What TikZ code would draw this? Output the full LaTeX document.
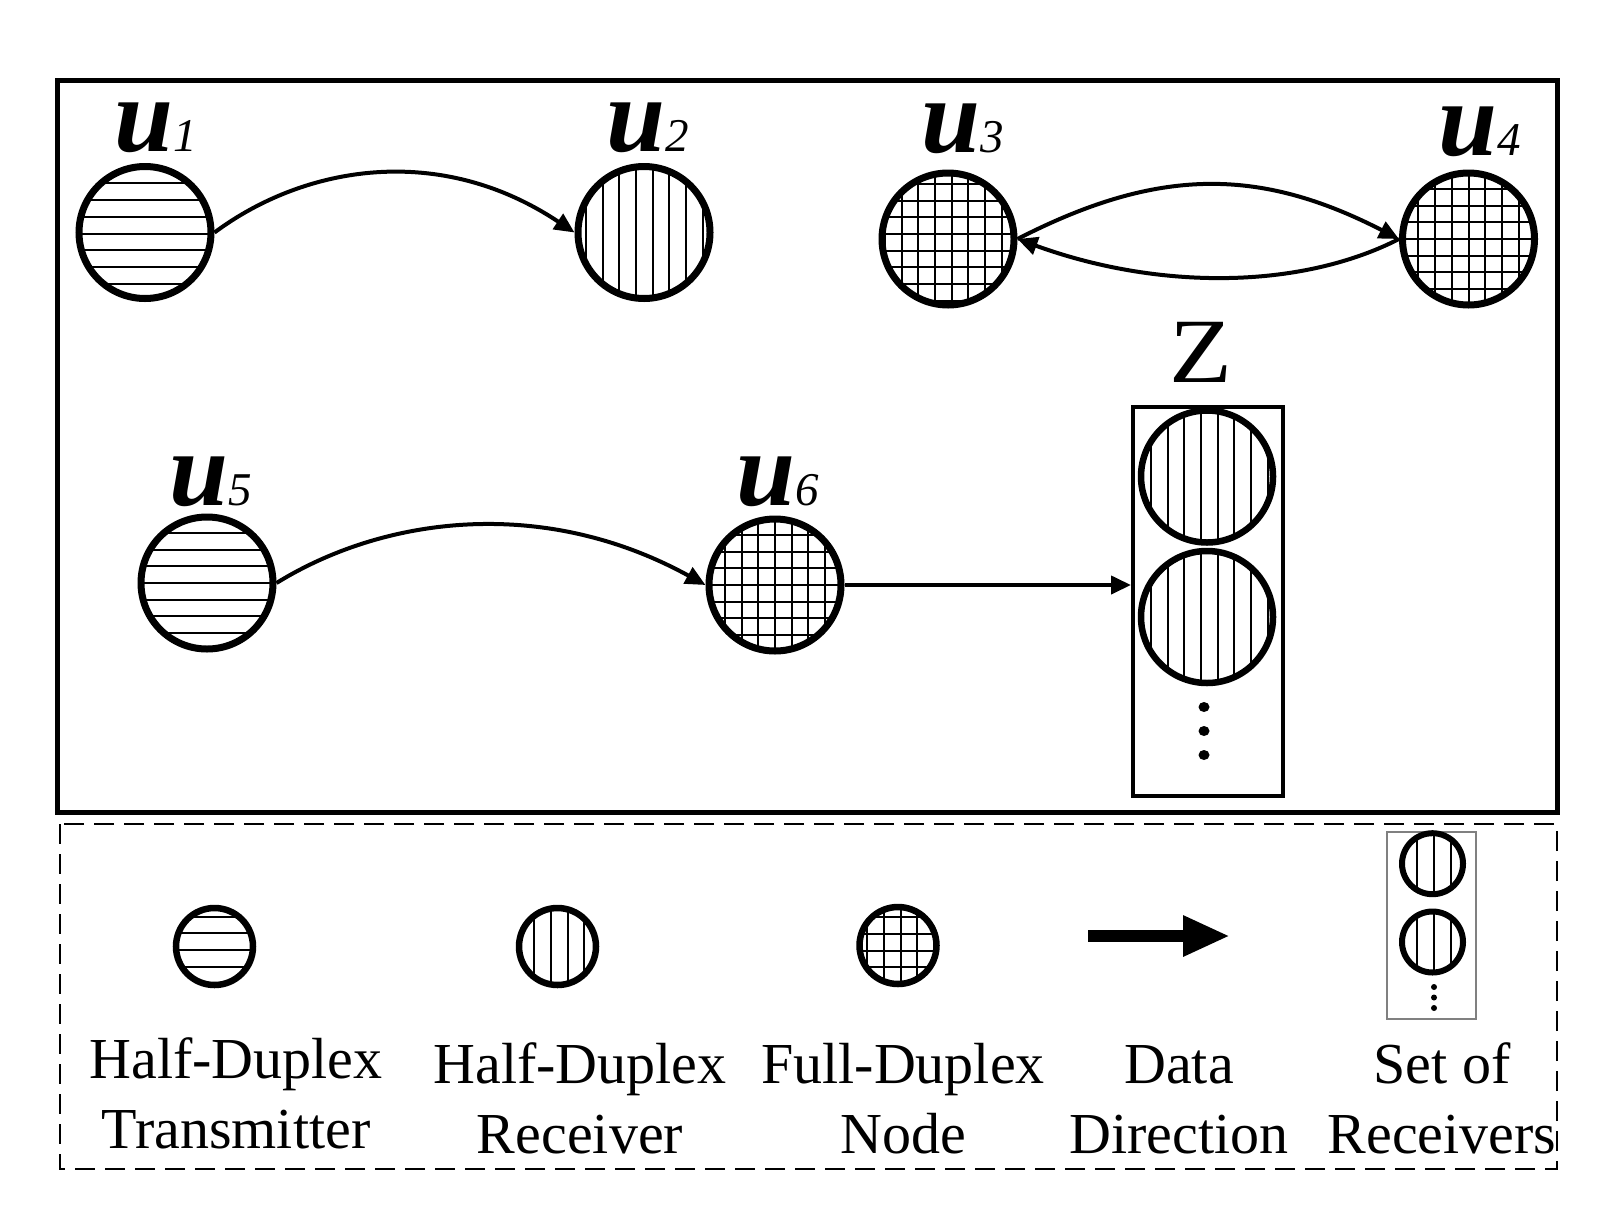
\documentclass[tikz,border=0pt]{standalone}
\usepackage{fontspec}
\setmainfont{Liberation Serif}
\usetikzlibrary{arrows.meta}
\begin{document}
\begin{tikzpicture}[x=1pt,y=-1pt,
  nd/.style={circle, draw, line width=7pt, inner sep=0pt, outer sep=3.5pt, minimum size=132pt},
  lg/.style={circle, draw, line width=6.5pt, inner sep=0pt, outer sep=3.25pt, minimum size=77pt},
  sm/.style={circle, draw, line width=6pt, inner sep=0pt, outer sep=3pt, minimum size=61pt},
  pat/.style={line width=2pt},
  hatchH/.style={path picture={\foreach \k in {-6,...,6}{\draw[pat] ([shift={(-90pt,{-(\k*16.7+(#1))*1pt})}]path picture bounding box.center) -- ++(180pt,0pt);}}},
  hatchV/.style={path picture={\foreach \k in {-6,...,6}{\draw[pat] ([shift={({(\k*16.7+(#1))*1pt},90pt)}]path picture bounding box.center) -- ++(0pt,-180pt);}}},
  hatchG/.style 2 args={path picture={\foreach \k in {-6,...,6}{\draw[pat] ([shift={({(\k*16.7+(#1))*1pt},90pt)}]path picture bounding box.center) -- ++(0pt,-180pt); \draw[pat] ([shift={(-90pt,{-(\k*16.7+(#2))*1pt})}]path picture bounding box.center) -- ++(180pt,0pt);}}},
  lbl/.style={anchor=base west, inner sep=0pt},
  conn/.style={line width=4pt, -{Triangle[length=20pt,width=18pt]}},
  legtxt/.style={align=center, anchor=base, inner sep=0pt, font=\fontsize{58}{70}\selectfont},
]
\useasboundingbox (0,0) rectangle (1624,1210);

% frames
\draw[line width=5pt] (57,80.5) rectangle (1557,812);
\draw[line width=1.5pt, dash pattern=on 20pt off 10pt] (60,824) rectangle (1557,1169);

% nodes
\node[nd, hatchH=1] (u1) at (145,232.5) {};
\node[nd, hatchV=-8] (u2) at (644,232.5) {};
\node[nd, hatchG={3.7}{-5}] (u3) at (948,239) {};
\node[nd, hatchG={0}{0}] (u4) at (1468.5,239) {};
\node[nd, hatchH=0] (u5) at (207,583) {};
\node[nd, hatchG={0}{0}] (u6) at (775,585) {};

\node[draw, line width=4pt, minimum width=150pt, minimum height=389pt, inner sep=0pt, outer sep=2pt] (zbox) at (1208,601.5) {};
\node[nd, line width=6.5pt, hatchV=-6] (z1) at (1207,476.5) {};
\node[nd, line width=6.5pt, hatchV=-6] (z2) at (1207,617) {};
\fill (1204,707) ellipse (5.5pt and 5pt) (1204,731) ellipse (5.5pt and 5pt) (1204,755) ellipse (5.5pt and 5pt);
\node[font=\fontsize{92}{92}\selectfont, anchor=base, inner sep=0pt, xscale=1.12] (zl) at (1201,382) {Z};

% labels
\node[lbl] (l1) at (114,151) {\fontsize{106}{106}\selectfont\textbf{\textit{u}}\fontsize{47}{47}\selectfont\textit{1}};
\node[lbl] (l2) at (606,151) {\fontsize{106}{106}\selectfont\textbf{\textit{u}}\fontsize{47}{47}\selectfont\textit{2}};
\node[lbl] (l3) at (921,152) {\fontsize{106}{106}\selectfont\textbf{\textit{u}}\fontsize{47}{47}\selectfont\textit{3}};
\node[lbl] (l4) at (1438,155) {\fontsize{106}{106}\selectfont\textbf{\textit{u}}\fontsize{47}{47}\selectfont\textit{4}};
\node[lbl] (l5) at (169,505) {\fontsize{106}{106}\selectfont\textbf{\textit{u}}\fontsize{47}{47}\selectfont\textit{5}};
\node[lbl] (l6) at (736,505) {\fontsize{106}{106}\selectfont\textbf{\textit{u}}\fontsize{47}{47}\selectfont\textit{6}};

% connectors
\draw[conn] (u1.east) .. controls +(90,-67) and +(-135,-90) .. (u2.west);
\draw[conn] (u3.east) .. controls +(140,-72) and +(-140,-72) .. (u4.west);
\draw[conn] (u4.west) .. controls +(-100,51) and +(140,51) .. (u3.east);
\draw[conn] (u5.east) .. controls +(110,-68) and +(-160,-88) .. (u6.west);
\draw[conn] (u6.east) -- (u6.east -| zbox.west);

% legend
\node[lg, hatchH=3.5] (lt) at (214.5,946.5) {};
\node[lg, hatchV=-6.5] (lr) at (557.5,946.5) {};
\node[lg, hatchG={2.7}{5.2}] (lf) at (898,945.5) {};
\coordinate (la) at (1088,936);
\coordinate (lb) at (1230,936);
\draw[line width=12pt, -{Triangle[length=47pt,width=38pt]}] (la) -- (lb);
\node[draw=gray, line width=2pt, minimum width=89pt, minimum height=187pt, inner sep=0pt] (ls) at (1431.5,925.5) {};
\node[sm, hatchV=1.5] (ls1) at (1432.5,863.7) {};
\node[sm, hatchV=1.5] (ls2) at (1432.5,942) {};
\fill (1434,987) circle (3pt) (1434,997.5) circle (3pt) (1434,1008) circle (3pt);

\node[legtxt] (t1) at (236,1148) {Half-Duplex\\Transmitter};
\node[legtxt] (t2) at (580,1153) {Half-Duplex\\Receiver};
\node[legtxt] (t3) at (903,1153) {Full-Duplex\\Node};
\node[legtxt] (t4) at (1179,1153) {Data\\Direction};
\node[legtxt] (t5) at (1442,1153) {Set of\\Receivers};
\end{tikzpicture}
\end{document}
